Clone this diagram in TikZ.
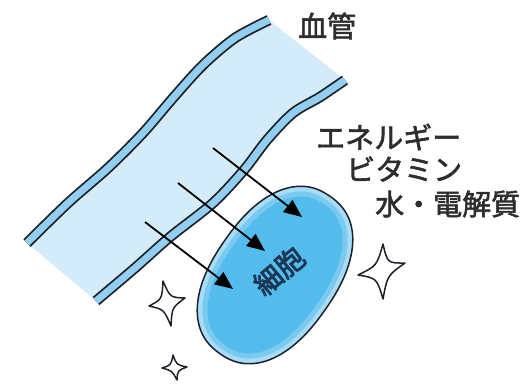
\documentclass[tikz,border=0pt]{standalone}
\usepackage{fontspec}
\newfontfamily\jpfont[FakeBold=2]{Noto Sans CJK JP}
\newfontfamily\jpboldfont[FakeBold=3]{Noto Sans CJK JP}
\usetikzlibrary{arrows.meta}
\definecolor{vessel}{RGB}{212,236,249}
\definecolor{wallblue}{RGB}{146,206,240}
\definecolor{ink}{RGB}{28,34,42}
\definecolor{cellrim}{RGB}{168,220,246}
\definecolor{cellbody}{RGB}{84,188,236}
\definecolor{celltext}{RGB}{26,56,86}
\definecolor{labeltext}{RGB}{45,45,45}

\begin{document}
\begin{tikzpicture}[x=1pt,y=-1pt,
  wall/.style={draw=ink,line width=1.8pt,double=wallblue,double distance=7pt},
  flow/.style={draw=black,line width=1.8pt,-{Triangle[length=18pt,width=15pt]}},
  sparkle/.style={draw=ink,line width=1.5pt,line join=round},
  label/.style={font=\jpfont\fontsize{29}{32}\selectfont,text=labeltext,inner sep=0pt,anchor=west},
]
\useasboundingbox (0,0) rectangle (523,384);

% blood vessel: lumen between the two walls
\fill[vessel]
  plot[smooth] coordinates {(27,243) (68,203) (108,168) (143,133) (173,98) (203,65) (235,38) (269,20)}
  -- plot[smooth] coordinates {(345,80) (320,97) (293,113) (267,140) (244,170) (213,203) (170,237) (135,268) (96,301)}
  -- cycle;

% vessel walls
\draw[wall] plot[smooth] coordinates {(27,243) (68,203) (108,168) (143,133) (173,98) (203,65) (235,38) (269,20)};
\draw[wall] plot[smooth] coordinates {(96,301) (135,268) (170,237) (213,203) (244,170) (267,140) (293,113) (320,97) (345,80)};

% cell body: a slightly squared oval with a lighter rim
\begin{scope}[shift={(275,275)},rotate=55]
  \draw[draw=ink,line width=1.5pt,fill=cellrim]
    plot[domain=1:357,samples=90,smooth cycle]
      ({96*sign(cos(\x))*abs(cos(\x))^0.87},{61*sign(sin(\x))*abs(sin(\x))^0.87});
  \fill[cellbody!55!cellrim]
    plot[domain=1:357,samples=90,smooth cycle]
      ({91*sign(cos(\x))*abs(cos(\x))^0.87},{56*sign(sin(\x))*abs(sin(\x))^0.87});
  \fill[cellbody]
    plot[domain=1:357,samples=90,smooth cycle]
      ({86*sign(cos(\x))*abs(cos(\x))^0.87},{51*sign(sin(\x))*abs(sin(\x))^0.87});
\end{scope}
\node[rotate=40,font=\jpboldfont\fontsize{28}{30}\selectfont,text=celltext,inner sep=0pt] (cell) at (279,271) {細胞};

% transport from the vessel into the cell
\coordinate (a1) at (213,148); \coordinate (b1) at (302,217);
\coordinate (a2) at (178,183); \coordinate (b2) at (265,251);
\coordinate (a3) at (145,222); \coordinate (b3) at (233,289);
\draw[flow] (a1) -- (b1);
\draw[flow] (a2) -- (b2);
\draw[flow] (a3) -- (b3);

% sparkles
\draw[sparkle] (383,244) .. controls (387.4,263.1) .. (405,263)
  .. controls (387.4,275.5) .. (383,299)
  .. controls (376.8,278.2) .. (358,275)
  .. controls (376.8,265.8) .. cycle;
\draw[sparkle] (163,281) .. controls (170.2,297.5) .. (185,298)
  .. controls (172,307.6) .. (171,326)
  .. controls (163.9,309.4) .. (149,306)
  .. controls (162,299.3) .. cycle;
\draw[sparkle] (173,355) .. controls (176.7,364.9) .. (187,367)
  .. controls (177.6,370.5) .. (177,380)
  .. controls (172,370.7) .. (162,368)
  .. controls (171.1,365.1) .. cycle;

% labels
\node[label] (vesselname) at (298,26) {血管};
\node[label] (nut1) at (316,137) {エネルギー};
\node[label] (nut2) at (346,169) {ビタミン};
\node[label] (nut3) at (375,204) {水・電解質};
\end{tikzpicture}
\end{document}
